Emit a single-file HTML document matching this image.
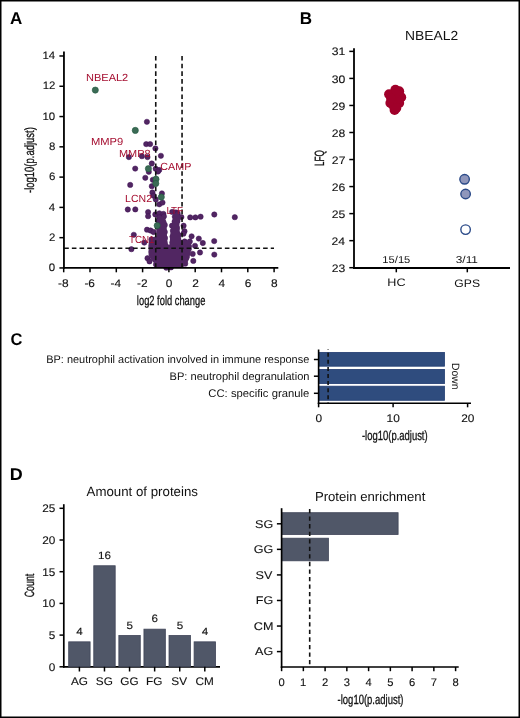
<!DOCTYPE html><html><head><meta charset="utf-8"><style>html,body{margin:0;padding:0;background:#fff;}svg{display:block;will-change:transform;}</style></head><body><svg width="520" height="718" viewBox="0 0 520 718" font-family='"Liberation Sans", sans-serif' text-rendering="geometricPrecision">
<rect x="0" y="0" width="520" height="718" fill="#fff"/>
<text x="9.97" y="23.8" font-size="17" fill="#000" font-weight="bold" textLength="12.29" lengthAdjust="spacingAndGlyphs" >A</text>
<text x="299.85" y="23.85" font-size="17" fill="#000" font-weight="bold" textLength="12.31" lengthAdjust="spacingAndGlyphs" >B</text>
<text x="10.54" y="345.0" font-size="17" fill="#000" font-weight="bold" textLength="11.91" lengthAdjust="spacingAndGlyphs" >C</text>
<text x="9.79" y="480.0" font-size="17" fill="#000" font-weight="bold" textLength="12.97" lengthAdjust="spacingAndGlyphs" >D</text>
<circle cx="146.9" cy="121.8" r="2.65" fill="#512662" stroke="#3f0f55" stroke-width="0.5"/>
<circle cx="152.8" cy="179.8" r="2.65" fill="#512662" stroke="#3f0f55" stroke-width="0.5"/>
<circle cx="146.2" cy="144.1" r="2.65" fill="#512662" stroke="#3f0f55" stroke-width="0.5"/>
<circle cx="150.1" cy="144.1" r="2.65" fill="#512662" stroke="#3f0f55" stroke-width="0.5"/>
<circle cx="155.4" cy="148.4" r="2.65" fill="#512662" stroke="#3f0f55" stroke-width="0.5"/>
<circle cx="128.9" cy="157.1" r="2.65" fill="#512662" stroke="#3f0f55" stroke-width="0.5"/>
<circle cx="141.9" cy="156.2" r="2.65" fill="#512662" stroke="#3f0f55" stroke-width="0.5"/>
<circle cx="147.5" cy="157.1" r="2.65" fill="#512662" stroke="#3f0f55" stroke-width="0.5"/>
<circle cx="160.9" cy="155.8" r="2.65" fill="#512662" stroke="#3f0f55" stroke-width="0.5"/>
<circle cx="151.8" cy="163.5" r="2.65" fill="#512662" stroke="#3f0f55" stroke-width="0.5"/>
<circle cx="135.2" cy="168.6" r="2.65" fill="#512662" stroke="#3f0f55" stroke-width="0.5"/>
<circle cx="148.8" cy="171.8" r="2.65" fill="#512662" stroke="#3f0f55" stroke-width="0.5"/>
<circle cx="155.7" cy="168.7" r="2.65" fill="#512662" stroke="#3f0f55" stroke-width="0.5"/>
<circle cx="159.2" cy="170" r="2.65" fill="#512662" stroke="#3f0f55" stroke-width="0.5"/>
<circle cx="158" cy="171.5" r="2.65" fill="#512662" stroke="#3f0f55" stroke-width="0.5"/>
<circle cx="145.3" cy="177.8" r="2.65" fill="#512662" stroke="#3f0f55" stroke-width="0.5"/>
<circle cx="130.2" cy="184.9" r="2.65" fill="#512662" stroke="#3f0f55" stroke-width="0.5"/>
<circle cx="151.8" cy="186.2" r="2.65" fill="#512662" stroke="#3f0f55" stroke-width="0.5"/>
<circle cx="152.4" cy="192.5" r="2.65" fill="#512662" stroke="#3f0f55" stroke-width="0.5"/>
<circle cx="153.5" cy="195.7" r="2.65" fill="#512662" stroke="#3f0f55" stroke-width="0.5"/>
<circle cx="155.8" cy="199.4" r="2.65" fill="#512662" stroke="#3f0f55" stroke-width="0.5"/>
<circle cx="161.9" cy="193.4" r="2.65" fill="#512662" stroke="#3f0f55" stroke-width="0.5"/>
<circle cx="159.3" cy="204.3" r="2.65" fill="#512662" stroke="#3f0f55" stroke-width="0.5"/>
<circle cx="162.5" cy="202.6" r="2.65" fill="#512662" stroke="#3f0f55" stroke-width="0.5"/>
<circle cx="127.8" cy="209.5" r="2.65" fill="#512662" stroke="#3f0f55" stroke-width="0.5"/>
<circle cx="135.3" cy="209.4" r="2.65" fill="#512662" stroke="#3f0f55" stroke-width="0.5"/>
<circle cx="148.1" cy="212.1" r="2.65" fill="#512662" stroke="#3f0f55" stroke-width="0.5"/>
<circle cx="148.1" cy="216.2" r="2.65" fill="#512662" stroke="#3f0f55" stroke-width="0.5"/>
<circle cx="155.3" cy="214.4" r="2.65" fill="#512662" stroke="#3f0f55" stroke-width="0.5"/>
<circle cx="159.3" cy="213.3" r="2.65" fill="#512662" stroke="#3f0f55" stroke-width="0.5"/>
<circle cx="163.4" cy="213.9" r="2.65" fill="#512662" stroke="#3f0f55" stroke-width="0.5"/>
<circle cx="163.9" cy="216.4" r="2.65" fill="#512662" stroke="#3f0f55" stroke-width="0.5"/>
<circle cx="159.3" cy="217.3" r="2.65" fill="#512662" stroke="#3f0f55" stroke-width="0.5"/>
<circle cx="158.2" cy="220.8" r="2.65" fill="#512662" stroke="#3f0f55" stroke-width="0.5"/>
<circle cx="164.8" cy="225" r="2.65" fill="#512662" stroke="#3f0f55" stroke-width="0.5"/>
<circle cx="164.8" cy="232" r="2.65" fill="#512662" stroke="#3f0f55" stroke-width="0.5"/>
<circle cx="165.0" cy="238" r="2.65" fill="#512662" stroke="#3f0f55" stroke-width="0.5"/>
<circle cx="147" cy="229.7" r="2.65" fill="#512662" stroke="#3f0f55" stroke-width="0.5"/>
<circle cx="150.5" cy="230.5" r="2.65" fill="#512662" stroke="#3f0f55" stroke-width="0.5"/>
<circle cx="153.5" cy="232" r="2.65" fill="#512662" stroke="#3f0f55" stroke-width="0.5"/>
<circle cx="144.3" cy="242.6" r="2.65" fill="#512662" stroke="#3f0f55" stroke-width="0.5"/>
<circle cx="133.8" cy="234.8" r="2.65" fill="#512662" stroke="#3f0f55" stroke-width="0.5"/>
<circle cx="131.4" cy="249.2" r="2.65" fill="#512662" stroke="#3f0f55" stroke-width="0.5"/>
<circle cx="151.5" cy="239.5" r="2.65" fill="#512662" stroke="#3f0f55" stroke-width="0.5"/>
<circle cx="151.5" cy="246" r="2.65" fill="#512662" stroke="#3f0f55" stroke-width="0.5"/>
<circle cx="151.5" cy="252" r="2.65" fill="#512662" stroke="#3f0f55" stroke-width="0.5"/>
<circle cx="147.5" cy="258.2" r="2.65" fill="#512662" stroke="#3f0f55" stroke-width="0.5"/>
<circle cx="149.5" cy="261.4" r="2.65" fill="#512662" stroke="#3f0f55" stroke-width="0.5"/>
<circle cx="156" cy="264.5" r="2.65" fill="#512662" stroke="#3f0f55" stroke-width="0.5"/>
<circle cx="172.2" cy="211.9" r="2.65" fill="#512662" stroke="#3f0f55" stroke-width="0.5"/>
<circle cx="175.9" cy="212.5" r="2.65" fill="#512662" stroke="#3f0f55" stroke-width="0.5"/>
<circle cx="177.7" cy="213.4" r="2.65" fill="#512662" stroke="#3f0f55" stroke-width="0.5"/>
<circle cx="174.8" cy="216.8" r="2.65" fill="#512662" stroke="#3f0f55" stroke-width="0.5"/>
<circle cx="181.4" cy="217.1" r="2.65" fill="#512662" stroke="#3f0f55" stroke-width="0.5"/>
<circle cx="183.6" cy="225.7" r="2.65" fill="#512662" stroke="#3f0f55" stroke-width="0.5"/>
<circle cx="184.5" cy="231.2" r="2.65" fill="#512662" stroke="#3f0f55" stroke-width="0.5"/>
<circle cx="183.5" cy="233.7" r="2.65" fill="#512662" stroke="#3f0f55" stroke-width="0.5"/>
<circle cx="174.6" cy="221.5" r="2.65" fill="#512662" stroke="#3f0f55" stroke-width="0.5"/>
<circle cx="172" cy="225.7" r="2.65" fill="#512662" stroke="#3f0f55" stroke-width="0.5"/>
<circle cx="173" cy="230.6" r="2.65" fill="#512662" stroke="#3f0f55" stroke-width="0.5"/>
<circle cx="172.5" cy="236.7" r="2.65" fill="#512662" stroke="#3f0f55" stroke-width="0.5"/>
<circle cx="172.4" cy="242.5" r="2.65" fill="#512662" stroke="#3f0f55" stroke-width="0.5"/>
<circle cx="177.5" cy="221" r="2.65" fill="#512662" stroke="#3f0f55" stroke-width="0.5"/>
<circle cx="177" cy="228" r="2.65" fill="#512662" stroke="#3f0f55" stroke-width="0.5"/>
<circle cx="178.5" cy="235" r="2.65" fill="#512662" stroke="#3f0f55" stroke-width="0.5"/>
<circle cx="190.2" cy="217.4" r="2.65" fill="#512662" stroke="#3f0f55" stroke-width="0.5"/>
<circle cx="195.4" cy="217.4" r="2.65" fill="#512662" stroke="#3f0f55" stroke-width="0.5"/>
<circle cx="200.6" cy="216.7" r="2.65" fill="#512662" stroke="#3f0f55" stroke-width="0.5"/>
<circle cx="214.3" cy="214.5" r="2.65" fill="#512662" stroke="#3f0f55" stroke-width="0.5"/>
<circle cx="234.8" cy="217.2" r="2.65" fill="#512662" stroke="#3f0f55" stroke-width="0.5"/>
<circle cx="191.6" cy="236.3" r="2.65" fill="#512662" stroke="#3f0f55" stroke-width="0.5"/>
<circle cx="198.8" cy="238.6" r="2.65" fill="#512662" stroke="#3f0f55" stroke-width="0.5"/>
<circle cx="202.8" cy="243" r="2.65" fill="#512662" stroke="#3f0f55" stroke-width="0.5"/>
<circle cx="200" cy="252.5" r="2.65" fill="#512662" stroke="#3f0f55" stroke-width="0.5"/>
<circle cx="192.7" cy="253.9" r="2.65" fill="#512662" stroke="#3f0f55" stroke-width="0.5"/>
<circle cx="193.3" cy="260.9" r="2.65" fill="#512662" stroke="#3f0f55" stroke-width="0.5"/>
<circle cx="184.7" cy="241.5" r="2.65" fill="#512662" stroke="#3f0f55" stroke-width="0.5"/>
<circle cx="189.8" cy="241.5" r="2.65" fill="#512662" stroke="#3f0f55" stroke-width="0.5"/>
<circle cx="195" cy="245.8" r="2.65" fill="#512662" stroke="#3f0f55" stroke-width="0.5"/>
<circle cx="188.7" cy="249.3" r="2.65" fill="#512662" stroke="#3f0f55" stroke-width="0.5"/>
<circle cx="186.4" cy="257.4" r="2.65" fill="#512662" stroke="#3f0f55" stroke-width="0.5"/>
<circle cx="185.2" cy="263.7" r="2.65" fill="#512662" stroke="#3f0f55" stroke-width="0.5"/>
<circle cx="214.2" cy="241.1" r="2.65" fill="#512662" stroke="#3f0f55" stroke-width="0.5"/>
<circle cx="214.3" cy="254.6" r="2.65" fill="#512662" stroke="#3f0f55" stroke-width="0.5"/>
<circle cx="166.3" cy="267.7" r="2.65" fill="#512662" stroke="#3f0f55" stroke-width="0.5"/>
<circle cx="171" cy="267.4" r="2.65" fill="#512662" stroke="#3f0f55" stroke-width="0.5"/>
<path d="M156.5,221.5 L158.5,217.5 L162,216.5 L165,218 L166.5,222 L166.8,230 L167,238 L168,244.5 L169.7,244.5 L170,238 L170.6,230 L172,225 L173,219 L174,214 L176,212.5 L178,213 L180,216 L179.6,221.4 L179.3,228 L180.5,236 L181.5,240 L186,240.5 L190,241.5 L192,246 L190.5,252 L189.5,258 L187,263.5 L183,267.2 L155,267.2 L154,263 L150.5,259 L148.6,255 L148.6,244 L149.5,237.5 L156.2,236.5 L156.3,228 Z" fill="#512662"/>
<line x1="155.75" y1="56.0" x2="155.75" y2="267.95" stroke="#111" stroke-width="1.6" stroke-dasharray="4.6 3.08"/>
<line x1="182.05" y1="56.0" x2="182.05" y2="267.95" stroke="#111" stroke-width="1.6" stroke-dasharray="4.6 3.08"/>
<line x1="64.2" y1="248.2" x2="274" y2="248.2" stroke="#111" stroke-width="1.6" stroke-dasharray="4.6 3.05"/>
<circle cx="95.3" cy="90.1" r="3.1" fill="#3b6b55" stroke="#1f563c" stroke-width="0.6"/>
<circle cx="135.3" cy="130.4" r="3.1" fill="#3b6b55" stroke="#1f563c" stroke-width="0.6"/>
<circle cx="148.4" cy="168.7" r="3.1" fill="#3b6b55" stroke="#1f563c" stroke-width="0.6"/>
<circle cx="156" cy="179.2" r="3.1" fill="#3b6b55" stroke="#1f563c" stroke-width="0.6"/>
<circle cx="155.8" cy="183.5" r="3.1" fill="#3b6b55" stroke="#1f563c" stroke-width="0.6"/>
<circle cx="161.3" cy="197.1" r="3.1" fill="#3b6b55" stroke="#1f563c" stroke-width="0.6"/>
<circle cx="157.2" cy="225.6" r="3.1" fill="#3b6b55" stroke="#1f563c" stroke-width="0.6"/>
<text x="85.99" y="81.2" font-size="10.3" fill="#a50e30" font-weight="normal" textLength="42.27" lengthAdjust="spacingAndGlyphs" >NBEAL2</text>
<text x="90.98" y="144.8" font-size="10.3" fill="#a50e30" font-weight="normal" textLength="32.24" lengthAdjust="spacingAndGlyphs" >MMP9</text>
<text x="119.00" y="157.4" font-size="10.3" fill="#a50e30" font-weight="normal" textLength="31.58" lengthAdjust="spacingAndGlyphs" >MMP8</text>
<text x="160.26" y="170" font-size="10.3" fill="#a50e30" font-weight="normal" textLength="31.09" lengthAdjust="spacingAndGlyphs" >CAMP</text>
<text x="125.13" y="201.7" font-size="10.3" fill="#a50e30" font-weight="normal" textLength="26.91" lengthAdjust="spacingAndGlyphs" >LCN2</text>
<text x="166.40" y="213.75" font-size="10.3" fill="#a50e30" font-weight="normal" textLength="16.61" lengthAdjust="spacingAndGlyphs" >LTF</text>
<text x="128.88" y="242.5" font-size="10.3" fill="#a50e30" font-weight="normal" textLength="25.70" lengthAdjust="spacingAndGlyphs" >TCN1</text>
<line x1="63.95" y1="51.5" x2="63.95" y2="268.84999999999997" stroke="#000" stroke-width="1.8"/>
<line x1="63.05" y1="267.95" x2="278.3" y2="267.95" stroke="#000" stroke-width="1.8"/>
<line x1="59.4" y1="267.95" x2="63.95" y2="267.95" stroke="#000" stroke-width="1.5"/>
<text x="48.88" y="271.15" font-size="10.9" fill="#111" stroke="#111" stroke-width="0.12" textLength="6.37" lengthAdjust="spacingAndGlyphs">0</text>
<line x1="59.4" y1="237.67" x2="63.95" y2="237.67" stroke="#000" stroke-width="1.5"/>
<text x="49.02" y="240.87" font-size="10.9" fill="#111" stroke="#111" stroke-width="0.12" textLength="6.37" lengthAdjust="spacingAndGlyphs">2</text>
<line x1="59.4" y1="207.39" x2="63.95" y2="207.39" stroke="#000" stroke-width="1.5"/>
<text x="48.76" y="210.59" font-size="10.9" fill="#111" stroke="#111" stroke-width="0.12" textLength="6.37" lengthAdjust="spacingAndGlyphs">4</text>
<line x1="59.4" y1="177.10999999999999" x2="63.95" y2="177.10999999999999" stroke="#000" stroke-width="1.5"/>
<text x="48.93" y="180.31" font-size="10.9" fill="#111" stroke="#111" stroke-width="0.12" textLength="6.37" lengthAdjust="spacingAndGlyphs">6</text>
<line x1="59.4" y1="146.82999999999998" x2="63.95" y2="146.82999999999998" stroke="#000" stroke-width="1.5"/>
<text x="48.93" y="150.03" font-size="10.9" fill="#111" stroke="#111" stroke-width="0.12" textLength="6.37" lengthAdjust="spacingAndGlyphs">8</text>
<line x1="59.4" y1="116.54999999999998" x2="63.95" y2="116.54999999999998" stroke="#000" stroke-width="1.5"/>
<text x="42.53" y="119.75" font-size="10.9" fill="#111" stroke="#111" stroke-width="0.12" textLength="12.73" lengthAdjust="spacingAndGlyphs">10</text>
<line x1="59.4" y1="86.26999999999998" x2="63.95" y2="86.26999999999998" stroke="#000" stroke-width="1.5"/>
<text x="42.67" y="89.47" font-size="10.9" fill="#111" stroke="#111" stroke-width="0.12" textLength="12.73" lengthAdjust="spacingAndGlyphs">12</text>
<line x1="59.4" y1="55.98999999999998" x2="63.95" y2="55.98999999999998" stroke="#000" stroke-width="1.5"/>
<text x="42.41" y="59.19" font-size="10.9" fill="#111" stroke="#111" stroke-width="0.12" textLength="12.73" lengthAdjust="spacingAndGlyphs">14</text>
<line x1="63.7" y1="267.95" x2="63.7" y2="272.3" stroke="#000" stroke-width="1.5"/>
<text x="58.11" y="287.0" font-size="11.0" fill="#111" stroke="#111" stroke-width="0.12" textLength="10.56" lengthAdjust="spacingAndGlyphs">-8</text>
<line x1="90.0" y1="267.95" x2="90.0" y2="272.3" stroke="#000" stroke-width="1.5"/>
<text x="84.41" y="287.0" font-size="11.0" fill="#111" stroke="#111" stroke-width="0.12" textLength="10.56" lengthAdjust="spacingAndGlyphs">-6</text>
<line x1="116.30000000000001" y1="267.95" x2="116.30000000000001" y2="272.3" stroke="#000" stroke-width="1.5"/>
<text x="110.62" y="287.0" font-size="11.0" fill="#111" stroke="#111" stroke-width="0.12" textLength="10.56" lengthAdjust="spacingAndGlyphs">-4</text>
<line x1="142.6" y1="267.95" x2="142.6" y2="272.3" stroke="#000" stroke-width="1.5"/>
<text x="137.06" y="287.0" font-size="11.0" fill="#111" stroke="#111" stroke-width="0.12" textLength="10.56" lengthAdjust="spacingAndGlyphs">-2</text>
<line x1="168.9" y1="267.95" x2="168.9" y2="272.3" stroke="#000" stroke-width="1.5"/>
<text x="165.89" y="287.0" font-size="11.0" fill="#111" stroke="#111" stroke-width="0.12" textLength="6.61" lengthAdjust="spacingAndGlyphs">0</text>
<line x1="195.20000000000002" y1="267.95" x2="195.20000000000002" y2="272.3" stroke="#000" stroke-width="1.5"/>
<text x="192.20" y="287.0" font-size="11.0" fill="#111" stroke="#111" stroke-width="0.12" textLength="6.61" lengthAdjust="spacingAndGlyphs">2</text>
<line x1="221.5" y1="267.95" x2="221.5" y2="272.3" stroke="#000" stroke-width="1.5"/>
<text x="218.53" y="287.0" font-size="11.0" fill="#111" stroke="#111" stroke-width="0.12" textLength="6.61" lengthAdjust="spacingAndGlyphs">4</text>
<line x1="247.8" y1="267.95" x2="247.8" y2="272.3" stroke="#000" stroke-width="1.5"/>
<text x="244.76" y="287.0" font-size="11.0" fill="#111" stroke="#111" stroke-width="0.12" textLength="6.61" lengthAdjust="spacingAndGlyphs">6</text>
<line x1="274.1" y1="267.95" x2="274.1" y2="272.3" stroke="#000" stroke-width="1.5"/>
<text x="271.10" y="287.0" font-size="11.0" fill="#111" stroke="#111" stroke-width="0.12" textLength="6.61" lengthAdjust="spacingAndGlyphs">8</text>
<text x="0" y="0" transform="translate(171.1,304.9) scale(0.6965,1)" font-size="13.4" text-anchor="middle" fill="#111" stroke="#111" stroke-width="0.3">log2 fold change</text>
<text x="0" y="0" transform="translate(33.9,160.1) rotate(-90) translate(0,0) scale(0.7067,1)" font-size="13.4" text-anchor="middle" fill="#111" stroke="#111" stroke-width="0.3">-log10(p.adjust)</text>
<text x="405.06" y="40.1" font-size="13.1" fill="#111" font-weight="normal" textLength="53.14" lengthAdjust="spacingAndGlyphs" >NBEAL2</text>
<line x1="354.0" y1="48.2" x2="354.0" y2="268.9" stroke="#000" stroke-width="1.8"/>
<line x1="353.1" y1="268.0" x2="510" y2="268.0" stroke="#000" stroke-width="1.8"/>
<line x1="349.3" y1="267.7" x2="354.0" y2="267.7" stroke="#000" stroke-width="1.5"/>
<text x="331.77" y="271.8" font-size="10.9" fill="#111" stroke="#111" stroke-width="0.12" textLength="13.58" lengthAdjust="spacingAndGlyphs">23</text>
<line x1="349.3" y1="240.66" x2="354.0" y2="240.66" stroke="#000" stroke-width="1.5"/>
<text x="331.58" y="244.76" font-size="10.9" fill="#111" stroke="#111" stroke-width="0.12" textLength="13.58" lengthAdjust="spacingAndGlyphs">24</text>
<line x1="349.3" y1="213.62" x2="354.0" y2="213.62" stroke="#000" stroke-width="1.5"/>
<text x="331.74" y="217.72" font-size="10.9" fill="#111" stroke="#111" stroke-width="0.12" textLength="13.58" lengthAdjust="spacingAndGlyphs">25</text>
<line x1="349.3" y1="186.57999999999998" x2="354.0" y2="186.57999999999998" stroke="#000" stroke-width="1.5"/>
<text x="331.77" y="190.68" font-size="10.9" fill="#111" stroke="#111" stroke-width="0.12" textLength="13.58" lengthAdjust="spacingAndGlyphs">26</text>
<line x1="349.3" y1="159.54" x2="354.0" y2="159.54" stroke="#000" stroke-width="1.5"/>
<text x="331.86" y="163.64" font-size="10.9" fill="#111" stroke="#111" stroke-width="0.12" textLength="13.58" lengthAdjust="spacingAndGlyphs">27</text>
<line x1="349.3" y1="132.5" x2="354.0" y2="132.5" stroke="#000" stroke-width="1.5"/>
<text x="331.77" y="136.6" font-size="10.9" fill="#111" stroke="#111" stroke-width="0.12" textLength="13.58" lengthAdjust="spacingAndGlyphs">28</text>
<line x1="349.3" y1="105.45999999999998" x2="354.0" y2="105.45999999999998" stroke="#000" stroke-width="1.5"/>
<text x="331.80" y="109.56" font-size="10.9" fill="#111" stroke="#111" stroke-width="0.12" textLength="13.58" lengthAdjust="spacingAndGlyphs">29</text>
<line x1="349.3" y1="78.41999999999999" x2="354.0" y2="78.41999999999999" stroke="#000" stroke-width="1.5"/>
<text x="331.71" y="82.52" font-size="10.9" fill="#111" stroke="#111" stroke-width="0.12" textLength="13.58" lengthAdjust="spacingAndGlyphs">30</text>
<line x1="349.3" y1="51.379999999999995" x2="354.0" y2="51.379999999999995" stroke="#000" stroke-width="1.5"/>
<text x="331.83" y="55.48" font-size="10.9" fill="#111" stroke="#111" stroke-width="0.12" textLength="13.58" lengthAdjust="spacingAndGlyphs">31</text>
<line x1="396.3" y1="268.0" x2="396.3" y2="272.3" stroke="#000" stroke-width="1.5"/>
<line x1="467.3" y1="268.0" x2="467.3" y2="272.3" stroke="#000" stroke-width="1.5"/>
<text x="387.36" y="286.4" font-size="10.9" fill="#111" font-weight="normal" textLength="18.20" lengthAdjust="spacingAndGlyphs" >HC</text>
<text x="454.39" y="286.6" font-size="10.9" fill="#111" font-weight="normal" textLength="25.65" lengthAdjust="spacingAndGlyphs" >GPS</text>
<text x="382.36" y="263.3" font-size="10.0" fill="#111" font-weight="normal" textLength="27.99" lengthAdjust="spacingAndGlyphs" >15/15</text>
<text x="455.75" y="263.4" font-size="10.0" fill="#111" font-weight="normal" textLength="22.24" lengthAdjust="spacingAndGlyphs" >3/11</text>
<text x="0" y="0" transform="translate(324.0,158.1) rotate(-90) translate(0,0) scale(0.6063,1)" font-size="13.4" text-anchor="middle" fill="#111" stroke="#111" stroke-width="0.3">LFQ</text>
<circle cx="395.4" cy="89.8" r="5" fill="#a0002a"/>
<circle cx="399.2" cy="91.2" r="5" fill="#a0002a"/>
<circle cx="389.1" cy="94.2" r="5" fill="#a0002a"/>
<circle cx="401.2" cy="97.3" r="5" fill="#a0002a"/>
<circle cx="390.4" cy="103" r="5" fill="#a0002a"/>
<circle cx="399.2" cy="103" r="5" fill="#a0002a"/>
<circle cx="394.6" cy="110" r="5" fill="#a0002a"/>
<circle cx="396" cy="106.5" r="5" fill="#a0002a"/>
<circle cx="394" cy="96" r="5" fill="#a0002a"/>
<circle cx="397" cy="99" r="5" fill="#a0002a"/>
<circle cx="392" cy="100" r="5" fill="#a0002a"/>
<circle cx="396" cy="93" r="5" fill="#a0002a"/>
<circle cx="393" cy="105" r="5" fill="#a0002a"/>
<circle cx="396.3" cy="108" r="5" fill="#a0002a"/>
<circle cx="391" cy="98" r="5" fill="#a0002a"/>
<circle cx="464.6" cy="179.3" r="4.75" fill="#8f96bb" stroke="#2b4a88" stroke-width="1.4"/>
<circle cx="465.6" cy="194" r="4.75" fill="#8f96bb" stroke="#2b4a88" stroke-width="1.4"/>
<circle cx="465.6" cy="229.6" r="4.75" fill="#fff" stroke="#2b4a88" stroke-width="1.4"/>
<rect x="318.6" y="352.40" width="125.90" height="13.80" fill="#2f4c7e" stroke="#223d72" stroke-width="0.8"/>
<rect x="318.6" y="369.40" width="125.90" height="14.20" fill="#2f4c7e" stroke="#223d72" stroke-width="0.8"/>
<rect x="318.6" y="386.20" width="125.90" height="14.10" fill="#2f4c7e" stroke="#223d72" stroke-width="0.8"/>
<line x1="328.1" y1="349.0" x2="328.1" y2="403.2" stroke="#111" stroke-width="1.6" stroke-dasharray="4 3.1" stroke-dashoffset="3.4"/>
<line x1="318.6" y1="349.5" x2="318.6" y2="404.1" stroke="#000" stroke-width="1.6"/>
<line x1="317.8" y1="403.2" x2="471" y2="403.2" stroke="#000" stroke-width="1.6"/>
<line x1="313.9" y1="359.5" x2="318.6" y2="359.5" stroke="#000" stroke-width="1.5"/>
<text x="46.20" y="362.9" font-size="11.1" fill="#111" font-weight="normal" textLength="263.09" lengthAdjust="spacingAndGlyphs" >BP: neutrophil activation involved in immune response</text>
<line x1="313.9" y1="376.2" x2="318.6" y2="376.2" stroke="#000" stroke-width="1.5"/>
<text x="169.59" y="379.6" font-size="11.1" fill="#111" font-weight="normal" textLength="139.91" lengthAdjust="spacingAndGlyphs" >BP: neutrophil degranulation</text>
<line x1="313.9" y1="393.3" x2="318.6" y2="393.3" stroke="#000" stroke-width="1.5"/>
<text x="208.34" y="396.7" font-size="11.1" fill="#111" font-weight="normal" textLength="100.96" lengthAdjust="spacingAndGlyphs" >CC: specific granule</text>
<line x1="318.6" y1="403.2" x2="318.6" y2="407.3" stroke="#000" stroke-width="1.5"/>
<text x="315.59" y="421.8" font-size="11.1" fill="#111" stroke="#111" stroke-width="0.12" textLength="6.61" lengthAdjust="spacingAndGlyphs">0</text>
<line x1="393.1" y1="403.2" x2="393.1" y2="407.3" stroke="#000" stroke-width="1.5"/>
<text x="386.59" y="421.8" font-size="11.1" fill="#111" stroke="#111" stroke-width="0.12" textLength="13.21" lengthAdjust="spacingAndGlyphs">10</text>
<line x1="467.6" y1="403.2" x2="467.6" y2="407.3" stroke="#000" stroke-width="1.5"/>
<text x="461.23" y="421.8" font-size="11.1" fill="#111" stroke="#111" stroke-width="0.12" textLength="13.21" lengthAdjust="spacingAndGlyphs">20</text>
<text x="0" y="0" transform="translate(394.8,440.0) scale(0.7056,1)" font-size="13.4" text-anchor="middle" fill="#111" stroke="#111" stroke-width="0.3">-log10(p.adjust)</text>
<text transform="translate(451.7,376.2) rotate(90)" font-size="10.6" text-anchor="middle" fill="#111" textLength="26.6" lengthAdjust="spacingAndGlyphs">Down</text>
<text x="86.57" y="496.4" font-size="13.3" fill="#111" font-weight="normal" textLength="111.38" lengthAdjust="spacingAndGlyphs" >Amount of proteins</text>
<line x1="63.8" y1="504.2" x2="63.8" y2="667.6" stroke="#000" stroke-width="1.7"/>
<line x1="62.95" y1="666.8" x2="220" y2="666.8" stroke="#000" stroke-width="1.7"/>
<line x1="59.5" y1="666.8" x2="63.8" y2="666.8" stroke="#000" stroke-width="1.5"/>
<text x="48.71" y="670.7" font-size="11.1" fill="#111" stroke="#111" stroke-width="0.12" textLength="6.54" lengthAdjust="spacingAndGlyphs">0</text>
<line x1="59.5" y1="635.0999999999999" x2="63.8" y2="635.0999999999999" stroke="#000" stroke-width="1.5"/>
<text x="48.74" y="639.0" font-size="11.1" fill="#111" stroke="#111" stroke-width="0.12" textLength="6.54" lengthAdjust="spacingAndGlyphs">5</text>
<line x1="59.5" y1="603.4" x2="63.8" y2="603.4" stroke="#000" stroke-width="1.5"/>
<text x="42.18" y="607.3" font-size="11.1" fill="#111" stroke="#111" stroke-width="0.12" textLength="13.09" lengthAdjust="spacingAndGlyphs">10</text>
<line x1="59.5" y1="571.6999999999999" x2="63.8" y2="571.6999999999999" stroke="#000" stroke-width="1.5"/>
<text x="42.21" y="575.6" font-size="11.1" fill="#111" stroke="#111" stroke-width="0.12" textLength="13.09" lengthAdjust="spacingAndGlyphs">15</text>
<line x1="59.5" y1="540.0" x2="63.8" y2="540.0" stroke="#000" stroke-width="1.5"/>
<text x="42.18" y="543.9" font-size="11.1" fill="#111" stroke="#111" stroke-width="0.12" textLength="13.09" lengthAdjust="spacingAndGlyphs">20</text>
<line x1="59.5" y1="508.29999999999995" x2="63.8" y2="508.29999999999995" stroke="#000" stroke-width="1.5"/>
<text x="42.21" y="512.2" font-size="11.1" fill="#111" stroke="#111" stroke-width="0.12" textLength="13.09" lengthAdjust="spacingAndGlyphs">25</text>
<text x="0" y="0" transform="translate(34.0,585.5) rotate(-90) translate(0,0) scale(0.6600,1)" font-size="13.4" text-anchor="middle" fill="#111" stroke="#111" stroke-width="0.3">Count</text>
<rect x="68.70" y="641.84" width="21.40" height="24.96" fill="#505768" stroke="#3f4457" stroke-width="0.8"/>
<line x1="79.4" y1="666.8" x2="79.4" y2="671.5" stroke="#000" stroke-width="1.5"/>
<text x="71.03" y="685.4" font-size="11.1" fill="#111" stroke="#111" stroke-width="0.12" textLength="17.00" lengthAdjust="spacingAndGlyphs">AG</text>
<text x="76.39" y="634.84" font-size="10.6" fill="#111" stroke="#111" stroke-width="0.12" textLength="6.48" lengthAdjust="spacingAndGlyphs">4</text>
<rect x="93.78" y="565.76" width="21.40" height="101.04" fill="#505768" stroke="#3f4457" stroke-width="0.8"/>
<line x1="104.48" y1="666.8" x2="104.48" y2="671.5" stroke="#000" stroke-width="1.5"/>
<text x="95.86" y="685.4" font-size="11.1" fill="#111" stroke="#111" stroke-width="0.12" textLength="17.00" lengthAdjust="spacingAndGlyphs">SG</text>
<text x="98.02" y="558.76" font-size="10.6" fill="#111" stroke="#111" stroke-width="0.12" textLength="12.97" lengthAdjust="spacingAndGlyphs">16</text>
<rect x="118.86" y="635.50" width="21.40" height="31.30" fill="#505768" stroke="#3f4457" stroke-width="0.8"/>
<line x1="129.56" y1="666.8" x2="129.56" y2="671.5" stroke="#000" stroke-width="1.5"/>
<text x="120.26" y="685.4" font-size="11.1" fill="#111" stroke="#111" stroke-width="0.12" textLength="18.30" lengthAdjust="spacingAndGlyphs">GG</text>
<text x="126.52" y="628.5" font-size="10.6" fill="#111" stroke="#111" stroke-width="0.12" textLength="6.48" lengthAdjust="spacingAndGlyphs">5</text>
<rect x="143.94" y="629.16" width="21.40" height="37.64" fill="#505768" stroke="#3f4457" stroke-width="0.8"/>
<line x1="154.64" y1="666.8" x2="154.64" y2="671.5" stroke="#000" stroke-width="1.5"/>
<text x="146.13" y="685.4" font-size="11.1" fill="#111" stroke="#111" stroke-width="0.12" textLength="16.34" lengthAdjust="spacingAndGlyphs">FG</text>
<text x="151.56" y="622.16" font-size="10.6" fill="#111" stroke="#111" stroke-width="0.12" textLength="6.48" lengthAdjust="spacingAndGlyphs">6</text>
<rect x="169.02" y="635.50" width="21.40" height="31.30" fill="#505768" stroke="#3f4457" stroke-width="0.8"/>
<line x1="179.72" y1="666.8" x2="179.72" y2="671.5" stroke="#000" stroke-width="1.5"/>
<text x="171.33" y="685.4" font-size="11.1" fill="#111" stroke="#111" stroke-width="0.12" textLength="15.70" lengthAdjust="spacingAndGlyphs">SV</text>
<text x="176.68" y="628.5" font-size="10.6" fill="#111" stroke="#111" stroke-width="0.12" textLength="6.48" lengthAdjust="spacingAndGlyphs">5</text>
<rect x="194.10" y="641.84" width="21.40" height="24.96" fill="#505768" stroke="#3f4457" stroke-width="0.8"/>
<line x1="204.8" y1="666.8" x2="204.8" y2="671.5" stroke="#000" stroke-width="1.5"/>
<text x="195.54" y="685.4" font-size="11.1" fill="#111" stroke="#111" stroke-width="0.12" textLength="18.30" lengthAdjust="spacingAndGlyphs">CM</text>
<text x="201.79" y="634.84" font-size="10.6" fill="#111" stroke="#111" stroke-width="0.12" textLength="6.48" lengthAdjust="spacingAndGlyphs">4</text>
<text x="314.91" y="500.8" font-size="13.2" fill="#111" font-weight="normal" textLength="110.39" lengthAdjust="spacingAndGlyphs" >Protein enrichment</text>
<rect x="281.6" y="512.7" width="116.50" height="21.8" fill="#505768" stroke="#3f4457" stroke-width="0.8"/>
<rect x="281.6" y="538.2" width="46.80" height="22.6" fill="#505768" stroke="#3f4457" stroke-width="0.8"/>
<line x1="309.7" y1="509.0" x2="309.7" y2="667.0" stroke="#111" stroke-width="1.6" stroke-dasharray="4.3 3.25"/>
<line x1="281.6" y1="508.2" x2="281.6" y2="667.8" stroke="#000" stroke-width="1.7"/>
<line x1="280.75" y1="667.0" x2="458.7" y2="667.0" stroke="#000" stroke-width="1.7"/>
<line x1="276.9" y1="523.8" x2="281.6" y2="523.8" stroke="#000" stroke-width="1.5"/>
<text x="255.11" y="527.5" font-size="11.2" fill="#111" stroke="#111" stroke-width="0.12" textLength="18.12" lengthAdjust="spacingAndGlyphs">SG</text>
<line x1="276.9" y1="549.3599999999999" x2="281.6" y2="549.3599999999999" stroke="#000" stroke-width="1.5"/>
<text x="253.73" y="553.06" font-size="11.2" fill="#111" stroke="#111" stroke-width="0.12" textLength="19.51" lengthAdjust="spacingAndGlyphs">GG</text>
<line x1="276.9" y1="574.92" x2="281.6" y2="574.92" stroke="#000" stroke-width="1.5"/>
<text x="255.62" y="578.62" font-size="11.2" fill="#111" stroke="#111" stroke-width="0.12" textLength="16.73" lengthAdjust="spacingAndGlyphs">SV</text>
<line x1="276.9" y1="600.4799999999999" x2="281.6" y2="600.4799999999999" stroke="#000" stroke-width="1.5"/>
<text x="255.84" y="604.18" font-size="11.2" fill="#111" stroke="#111" stroke-width="0.12" textLength="17.42" lengthAdjust="spacingAndGlyphs">FG</text>
<line x1="276.9" y1="626.04" x2="281.6" y2="626.04" stroke="#000" stroke-width="1.5"/>
<text x="253.83" y="629.74" font-size="11.2" fill="#111" stroke="#111" stroke-width="0.12" textLength="19.51" lengthAdjust="spacingAndGlyphs">CM</text>
<line x1="276.9" y1="651.5999999999999" x2="281.6" y2="651.5999999999999" stroke="#000" stroke-width="1.5"/>
<text x="255.11" y="655.3" font-size="11.2" fill="#111" stroke="#111" stroke-width="0.12" textLength="18.12" lengthAdjust="spacingAndGlyphs">AG</text>
<line x1="281.6" y1="667.0" x2="281.6" y2="671.2" stroke="#000" stroke-width="1.5"/>
<text x="278.47" y="685.6" font-size="11.0" fill="#111" stroke="#111" stroke-width="0.12" textLength="6.24" lengthAdjust="spacingAndGlyphs">0</text>
<line x1="303.35" y1="667.0" x2="303.35" y2="671.2" stroke="#000" stroke-width="1.5"/>
<text x="300.08" y="685.6" font-size="11.0" fill="#111" stroke="#111" stroke-width="0.12" textLength="6.24" lengthAdjust="spacingAndGlyphs">1</text>
<line x1="325.1" y1="667.0" x2="325.1" y2="671.2" stroke="#000" stroke-width="1.5"/>
<text x="321.99" y="685.6" font-size="11.0" fill="#111" stroke="#111" stroke-width="0.12" textLength="6.24" lengthAdjust="spacingAndGlyphs">2</text>
<line x1="346.85" y1="667.0" x2="346.85" y2="671.2" stroke="#000" stroke-width="1.5"/>
<text x="343.76" y="685.6" font-size="11.0" fill="#111" stroke="#111" stroke-width="0.12" textLength="6.24" lengthAdjust="spacingAndGlyphs">3</text>
<line x1="368.6" y1="667.0" x2="368.6" y2="671.2" stroke="#000" stroke-width="1.5"/>
<text x="365.51" y="685.6" font-size="11.0" fill="#111" stroke="#111" stroke-width="0.12" textLength="6.24" lengthAdjust="spacingAndGlyphs">4</text>
<line x1="390.35" y1="667.0" x2="390.35" y2="671.2" stroke="#000" stroke-width="1.5"/>
<text x="387.24" y="685.6" font-size="11.0" fill="#111" stroke="#111" stroke-width="0.12" textLength="6.24" lengthAdjust="spacingAndGlyphs">5</text>
<line x1="412.1" y1="667.0" x2="412.1" y2="671.2" stroke="#000" stroke-width="1.5"/>
<text x="408.94" y="685.6" font-size="11.0" fill="#111" stroke="#111" stroke-width="0.12" textLength="6.24" lengthAdjust="spacingAndGlyphs">6</text>
<line x1="433.85" y1="667.0" x2="433.85" y2="671.2" stroke="#000" stroke-width="1.5"/>
<text x="430.74" y="685.6" font-size="11.0" fill="#111" stroke="#111" stroke-width="0.12" textLength="6.24" lengthAdjust="spacingAndGlyphs">7</text>
<line x1="455.6" y1="667.0" x2="455.6" y2="671.2" stroke="#000" stroke-width="1.5"/>
<text x="452.49" y="685.6" font-size="11.0" fill="#111" stroke="#111" stroke-width="0.12" textLength="6.24" lengthAdjust="spacingAndGlyphs">8</text>
<text x="0" y="0" transform="translate(370.5,703.9) scale(0.7078,1)" font-size="13.4" text-anchor="middle" fill="#111" stroke="#111" stroke-width="0.3">-log10(p.adjust)</text>
<rect x="0" y="0" width="520" height="1.5" fill="#000"/>
<rect x="0" y="0" width="1.5" height="718" fill="#000"/>
<rect x="518.5" y="0" width="1.5" height="718" fill="#000"/>
<rect x="0" y="716.5" width="520" height="1.5" fill="#000"/>
</svg></body></html>
